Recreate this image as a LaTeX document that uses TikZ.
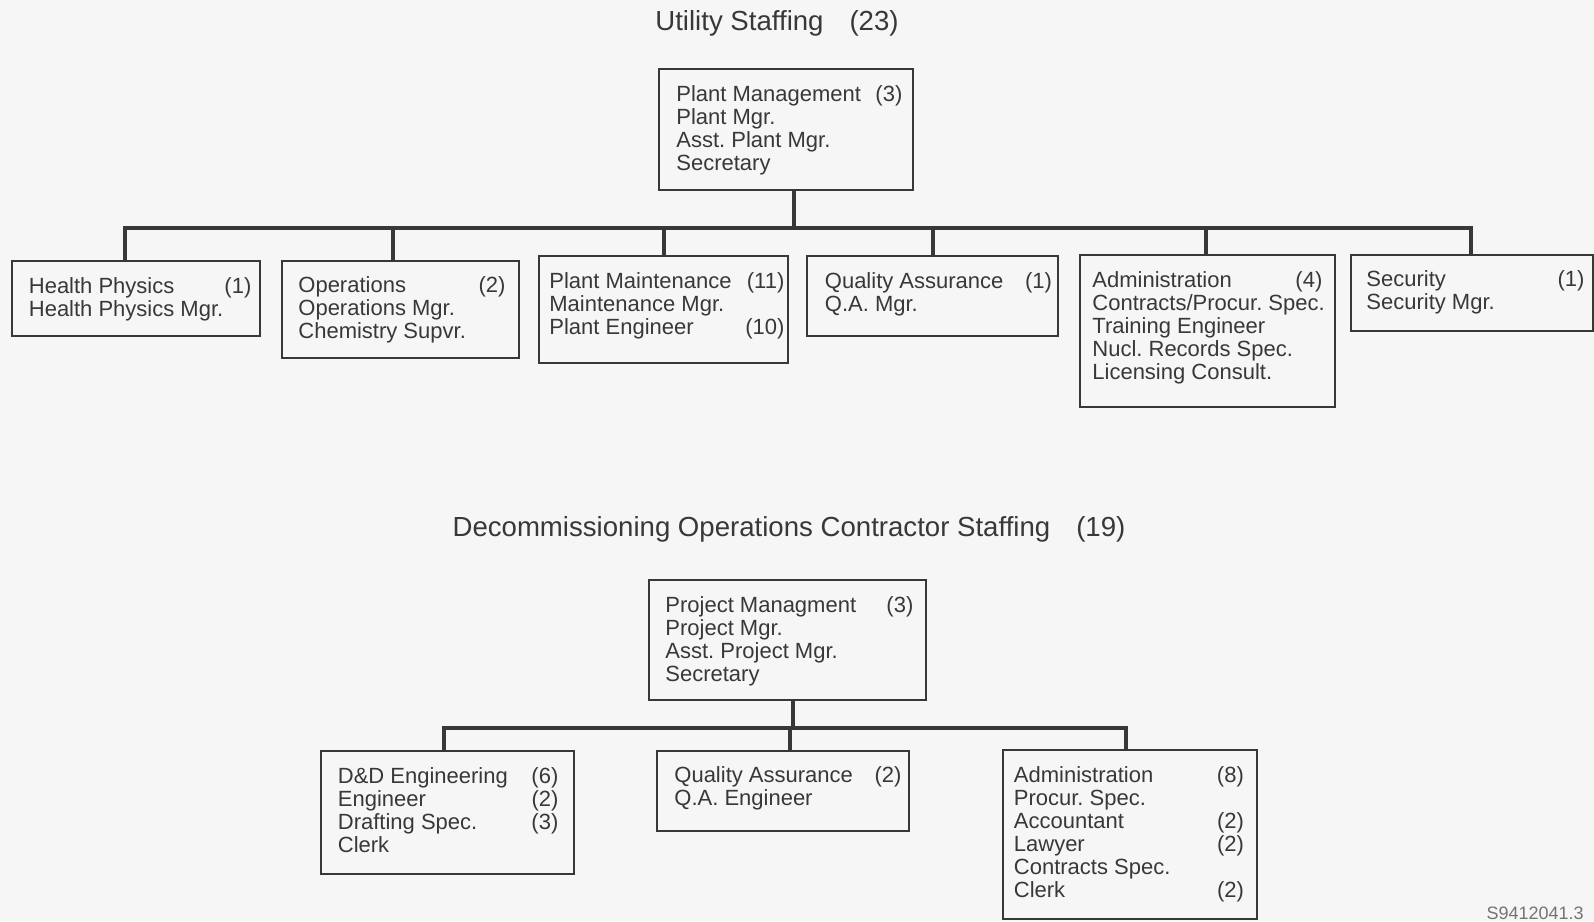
\documentclass[tikz,border=0pt]{standalone}
\usepackage{fontspec}
\setmainfont{Liberation Sans}
\usetikzlibrary{fit}
\definecolor{ink}{gray}{0.22}
\definecolor{paper}{gray}{0.965}
\frenchspacing
\begin{document}
\begin{tikzpicture}[x=0.5pt,y=-0.5pt,
  box/.style={draw=ink, line width=1.2pt, inner sep=0pt, fit={#1}},
  txt/.style={anchor=north west, inner sep=0pt, text=ink, font=\fontsize{11}{11.5}\selectfont\frenchspacing},
  ttl/.style={inner sep=0pt, text=ink, font=\fontsize{13.8}{16}\selectfont},
  conn/.style={draw=ink, line width=2pt, line cap=rect}]
\fill[paper] (0,0) rectangle (1594,921);
\useasboundingbox (0,0) rectangle (1594,921);
\renewcommand{\arraystretch}{1}
% ---------- Utility staffing ----------
\node[ttl] (t1) at (777,23) {Utility Staffing\hspace{13pt}(23)};
\node[box={(659,69)(913,190)}] (pm) {};
\node[txt] (pmT) at (676,85) {\begin{tabular*}{113pt}{@{}l@{\extracolsep{\fill}}r@{}}Plant Management & (3)\\ Plant Mgr. & \\ Asst. Plant Mgr. & \\ Secretary & \end{tabular*}};
\node[box={(12,261)(260,336)}] (hp) {};
\node[txt] (hpT) at (28.5,277) {\begin{tabular*}{111.25pt}{@{}l@{\extracolsep{\fill}}r@{}}Health Physics & (1)\\ Health Physics Mgr. & \end{tabular*}};
\node[box={(282,261)(519,358)}] (op) {};
\node[txt] (opT) at (298,276) {\begin{tabular*}{103.5pt}{@{}l@{\extracolsep{\fill}}r@{}}Operations & (2)\\ Operations Mgr. & \\ Chemistry Supvr. & \end{tabular*}};
\node[box={(539,256)(788,363)}] (mt) {};
\node[txt] (mtT) at (549,272) {\begin{tabular*}{117.5pt}{@{}l@{\extracolsep{\fill}}r@{}}Plant Maintenance & (11)\\ Maintenance Mgr. & \\ Plant Engineer & (10)\end{tabular*}};
\node[box={(807,256)(1058,336)}] (qa) {};
\node[txt] (qaT) at (824.5,272) {\begin{tabular*}{113.5pt}{@{}l@{\extracolsep{\fill}}r@{}}Quality Assurance & (1)\\ Q.A. Mgr. & \end{tabular*}};
\node[box={(1080,255)(1335,407)}] (ad) {};
\node[txt] (adT) at (1092,271) {\begin{tabular*}{115pt}{@{}l@{\extracolsep{\fill}}r@{}}Administration & (4)\\ \rlap{Contracts/Procur. Spec.} & \\ Training Engineer & \\ Nucl. Records Spec. & \\ Licensing Consult. & \end{tabular*}};
\node[box={(1351,255)(1593,331)}] (se) {};
\node[txt] (seT) at (1366,270) {\begin{tabular*}{109pt}{@{}l@{\extracolsep{\fill}}r@{}}Security & (1)\\ Security Mgr. & \end{tabular*}};
\coordinate (bus1) at (794,228);
\coordinate (d1) at (125,228);
\coordinate (d2) at (393,228);
\coordinate (d3) at (664,228);
\coordinate (d4) at (933,228);
\coordinate (d5) at (1206,228);
\coordinate (d6) at (1471,228);
\draw[conn] (pm.south -| bus1) -- (bus1);
\draw[conn] (d1) -- (d6);
\draw[conn] (d1) -- (d1 |- hp.north);
\draw[conn] (d2) -- (d2 |- op.north);
\draw[conn] (d3) -- (d3 |- mt.north);
\draw[conn] (d4) -- (d4 |- qa.north);
\draw[conn] (d5) -- (d5 |- ad.north);
\draw[conn] (d6) -- (d6 |- se.north);
% ---------- Contractor staffing ----------
\node[ttl] (t2) at (789,529) {Decommissioning Operations Contractor Staffing\hspace{13pt}(19)};
\node[box={(649,580)(926,700)}] (pj) {};
\node[txt] (pjT) at (665,596) {\begin{tabular*}{124pt}{@{}l@{\extracolsep{\fill}}r@{}}Project Managment & (3)\\ Project Mgr. & \\ Asst. Project Mgr. & \\ Secretary & \end{tabular*}};
\node[box={(321,751)(574,874)}] (dd) {};
\node[txt] (ddT) at (337.5,767) {\begin{tabular*}{110.25pt}{@{}l@{\extracolsep{\fill}}r@{}}D\&D Engineering & (6)\\ Engineer & (2)\\ Drafting Spec. & (3)\\ Clerk & \end{tabular*}};
\node[box={(657,751)(909,831)}] (qb) {};
\node[txt] (qbT) at (674,766) {\begin{tabular*}{113.5pt}{@{}l@{\extracolsep{\fill}}r@{}}Quality Assurance & (2)\\ Q.A. Engineer & \end{tabular*}};
\node[box={(1003,750)(1257,919)}] (ab) {};
\node[txt] (abT) at (1013.5,766) {\begin{tabular*}{115pt}{@{}l@{\extracolsep{\fill}}r@{}}Administration & (8)\\ Procur. Spec. & \\ Accountant & (2)\\ Lawyer & (2)\\ Contracts Spec. & \\ Clerk & (2)\end{tabular*}};
\coordinate (bus2) at (793,728);
\coordinate (e1) at (444,728);
\coordinate (e2) at (790,728);
\coordinate (e3) at (1126,728);
\draw[conn] (pj.south -| bus2) -- (bus2);
\draw[conn] (e1) -- (e3);
\draw[conn] (e1) -- (e1 |- dd.north);
\draw[conn] (e2) -- (e2 |- qb.north);
\draw[conn] (e3) -- (e3 |- ab.north);
\node[inner sep=0pt, text=ink!70, font=\fontsize{9}{10}\selectfont, anchor=east] (code) at (1584,913) {S9412041.3};
\end{tikzpicture}
\end{document}
